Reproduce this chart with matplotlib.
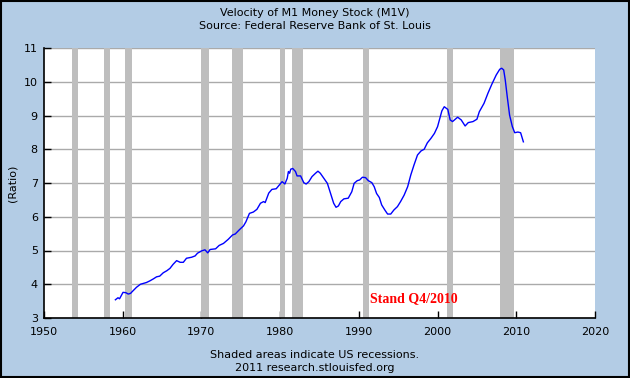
import matplotlib
matplotlib.use('Agg')
import matplotlib.pyplot as plt
from matplotlib.patches import Rectangle

# ==============================
# Data
# ==============================
years = [1959.07, 1959.4, 1959.6, 1960.04, 1960.4, 1960.7, 1961.0, 1961.2, 1961.75,
         1962.25, 1963.0, 1963.45, 1963.9, 1964.3, 1964.7, 1965.15, 1965.6, 1966.0,
         1966.4, 1966.85, 1967.3, 1967.7, 1968.1, 1968.75, 1969.2, 1969.5, 1970.04,
         1970.45, 1970.8, 1971.1, 1971.8, 1972.25, 1972.8, 1973.4, 1973.95, 1974.3,
         1974.8, 1975.35, 1975.65, 1976.1, 1976.6, 1977.05, 1977.5, 1977.9, 1978.1,
         1978.55, 1978.95, 1979.5, 1979.9, 1980.25, 1980.6, 1980.9, 1981.05, 1981.2,
         1981.35, 1981.6, 1981.95, 1982.15, 1982.6, 1983.0, 1983.3, 1983.65, 1984.05,
         1984.5, 1984.8, 1985.1, 1985.55, 1986.0, 1986.4, 1986.8, 1987.1, 1987.4,
         1987.7, 1988.1, 1988.65, 1989.1, 1989.4, 1989.8, 1990.1, 1990.45, 1990.85,
         1991.2, 1991.65, 1991.95, 1992.25, 1992.6, 1992.9, 1993.3, 1993.65, 1994.05,
         1994.45, 1994.9, 1995.3, 1995.75, 1996.2, 1996.6, 1997.0, 1997.45, 1997.9,
         1998.3, 1998.7, 1999.15, 1999.6, 2000.0, 2000.3, 2000.55, 2000.85, 2001.3,
         2001.6, 2001.9, 2002.25, 2002.55, 2003.0, 2003.5, 2003.9, 2004.5, 2005.0,
         2005.3, 2005.9, 2006.4, 2006.9, 2007.45, 2007.9, 2008.15, 2008.4, 2008.6,
         2008.85, 2009.15, 2009.5, 2009.8, 2010.2, 2010.55, 2010.9]
m1v = [3.54, 3.60, 3.57, 3.76, 3.75, 3.71, 3.73, 3.78, 3.91,
       4.00, 4.05, 4.10, 4.16, 4.22, 4.24, 4.34, 4.40, 4.47,
       4.59, 4.70, 4.65, 4.65, 4.77, 4.80, 4.84, 4.92, 4.99,
       5.02, 4.93, 5.03, 5.05, 5.15, 5.21, 5.33, 5.46, 5.49,
       5.61, 5.73, 5.85, 6.10, 6.14, 6.22, 6.40, 6.45, 6.42,
       6.70, 6.81, 6.83, 6.94, 7.04, 6.97, 7.14, 7.34, 7.29,
       7.41, 7.43, 7.34, 7.21, 7.21, 7.01, 6.97, 7.04, 7.19,
       7.29, 7.35, 7.29, 7.14, 6.99, 6.69, 6.40, 6.28, 6.32,
       6.45, 6.53, 6.55, 6.74, 6.99, 7.07, 7.09, 7.17, 7.16,
       7.07, 7.01, 6.89, 6.69, 6.57, 6.35, 6.20, 6.08, 6.08,
       6.20, 6.30, 6.45, 6.64, 6.89, 7.24, 7.53, 7.83, 7.95,
       8.00, 8.19, 8.32, 8.47, 8.67, 8.92, 9.14, 9.26, 9.18,
       8.87, 8.82, 8.89, 8.95, 8.87, 8.69, 8.79, 8.82, 8.89,
       9.11, 9.36, 9.66, 9.93, 10.20, 10.37, 10.40, 10.35, 10.05,
       9.56, 9.01, 8.67, 8.49, 8.51, 8.49, 8.22]

rec_start = [1953.5, 1957.6, 1960.3, 1969.9, 1973.9, 1980.0, 1981.55, 1990.55, 2001.2, 2007.95]
rec_end = [1954.35, 1958.35, 1961.15, 1970.9, 1975.25, 1980.6, 1982.95, 1991.25, 2001.95, 2009.65]

x_ticks = [1950, 1960, 1970, 1980, 1990, 2000, 2010, 2020]
y_ticks = [3, 4, 5, 6, 7, 8, 9, 10, 11]

bg = '#B3CCE5'

fig = plt.figure(figsize=(6.3, 3.78), dpi=100, facecolor=bg)
ax = fig.add_axes([44/630, 1 - 318/378, 551/630, 270/378])
ax.set_facecolor('white')

for s, e in zip(rec_start, rec_end):
    ax.axvspan(s, e, color='#BEBEBE', lw=0, zorder=2)

ax.plot(years, m1v, color='#0000FF', lw=1.0, zorder=3)

ax.set_xlim(1950, 2020)
ax.set_ylim(3, 11)
ax.set_xticks(x_ticks)
ax.set_yticks(y_ticks)
ax.grid(axis='y', color='#AAAAAA', lw=1.0, zorder=1)
ax.set_axisbelow(True)
ax.tick_params(direction='in', length=5, width=1, labelsize=8, colors='black')
ax.tick_params(axis='x', pad=6.5)
ax.tick_params(axis='y', pad=4.5)
for side in ['top', 'right']:
    ax.spines[side].set_visible(False)
for side in ['left', 'bottom']:
    ax.spines[side].set_linewidth(1.2)
    ax.spines[side].set_zorder(4)

ax.text(1991.4, 3.56, 'Stand Q4/2010', color='#FF0000', fontsize=10, fontweight='bold',
        family='Liberation Serif', ha='left', va='center', zorder=5)

fig.text(0.5, 1 - 13/378, 'Velocity of M1 Money Stock (M1V)', ha='center', va='center', fontsize=8)
fig.text(0.5, 1 - 26/378, 'Source: Federal Reserve Bank of St. Louis', ha='center', va='center', fontsize=8)
fig.text(12/630, 1 - 183/378, '(Ratio)', rotation=90, ha='center', va='center', fontsize=8)
fig.text(0.5, 1 - 355/378, 'Shaded areas indicate US recessions.', ha='center', va='center', fontsize=8)
fig.text(0.5, 1 - 368/378, '2011 research.stlouisfed.org', ha='center', va='center', fontsize=8)

fig.patches.append(Rectangle((0.001, 0.002), 0.997, 0.996, transform=fig.transFigure,
                             fill=False, edgecolor='black', lw=1.5))

fig.savefig('out.png', dpi=100, facecolor=bg)
